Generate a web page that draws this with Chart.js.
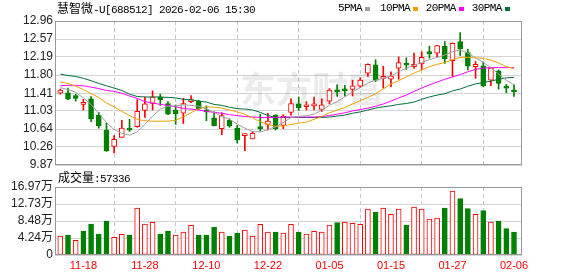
<!DOCTYPE html>
<html><head><meta charset="utf-8">
<script src="https://cdn.jsdelivr.net/npm/chart.js@4.4.1/dist/chart.umd.min.js"></script>
<style>
html,body{margin:0;padding:0;background:#fff;}
#wrap{position:relative;width:578px;height:276px;overflow:hidden;background:#fff;}
canvas{position:absolute;left:0;top:0;}
.t{position:absolute;white-space:nowrap;color:#000;line-height:14px;}
.cjk{font-family:'Noto Sans CJK SC',sans-serif;font-size:12px;}
.asc{font-family:'Liberation Mono',monospace;font-size:11px;letter-spacing:-0.6px;}
.sq{position:absolute;width:5px;height:4px;}
</style></head><body>
<div id="wrap">
<canvas id="main" width="578" height="276"></canvas>
<canvas id="vol" width="578" height="276"></canvas>
<div class="t" style="left:57px;top:1px;"><span class="cjk">慧智微</span><span class="asc">-U[688512] 2026-02-06 15:30</span></div>
<div id="legend"></div>
<div class="t" style="left:58px;top:170px;"><span class="cjk">成交量</span><span class="asc">:57336</span></div>
</div>
<script>
const dates = ['11-13','11-14','11-17','11-18','11-19','11-20','11-21','11-24','11-25','11-26',
'11-27','11-28','12-01','12-02','12-03','12-04','12-05','12-08','12-09','12-10',
'12-11','12-12','12-15','12-16','12-17','12-18','12-19','12-22','12-23','12-24',
'12-25','12-26','12-29','12-30','12-31','01-05','01-06','01-07','01-08','01-09',
'01-12','01-13','01-14','01-15','01-16','01-19','01-20','01-21','01-22','01-23',
'01-26','01-27','01-28','01-29','01-30','02-02','02-03','02-04','02-05','02-06'];

const opens = [11.41,11.42,11.36,11.17,11.29,10.94,10.62,10.27,10.46,10.65,
10.69,11.04,11.19,11.33,11.19,11.05,10.98,11.23,11.24,11.05,
10.88,10.65,10.83,10.66,10.50,10.43,10.66,10.74,10.94,10.72,
11.00,11.18,11.12,11.14,11.06,11.24,11.48,11.48,11.49,11.56,
11.84,12.02,11.73,11.71,11.95,12.05,11.98,12.04,12.30,12.27,
12.42,12.11,12.52,12.28,11.98,12.00,11.69,11.89,11.54,11.46];
const highs = [11.50,11.52,11.39,11.28,11.34,11.00,10.77,10.50,10.83,10.85,
11.27,11.33,11.46,11.39,11.23,11.16,11.30,11.36,11.26,11.14,
11.01,10.99,10.86,10.72,10.54,10.58,10.96,10.98,10.95,10.95,
11.29,11.33,11.23,11.33,11.29,11.51,11.59,11.58,11.69,11.74,
12.04,12.13,11.99,11.87,12.19,12.17,12.27,12.30,12.42,12.43,
12.52,12.49,12.71,12.35,12.09,12.08,11.96,11.91,11.60,11.59];
const lows = [11.39,11.27,11.24,11.05,10.80,10.66,10.16,10.13,10.46,10.59,
10.68,10.89,11.05,11.15,10.95,10.74,10.76,11.21,11.06,10.82,
10.71,10.52,10.68,10.34,10.18,10.43,10.60,10.62,10.62,10.65,
10.94,11.04,11.05,11.05,11.02,11.18,11.34,11.35,11.35,11.53,
11.77,11.66,11.52,11.55,11.71,11.92,11.94,11.91,12.16,12.19,
12.05,11.77,12.22,11.91,11.73,11.55,11.57,11.50,11.42,11.34];
const closes = [11.48,11.28,11.30,11.18,10.86,10.71,10.17,10.42,10.66,10.62,
11.02,11.18,11.33,11.27,10.96,10.97,11.19,11.24,11.08,11.01,
10.71,10.93,10.71,10.41,10.51,10.55,10.65,10.81,10.65,10.92,
11.19,11.10,11.14,11.15,11.16,11.48,11.44,11.46,11.57,11.69,
12.03,11.69,11.74,11.78,12.07,12.01,12.03,12.18,12.26,12.43,
12.15,12.48,12.36,11.99,12.03,11.57,11.95,11.62,11.52,11.44];
const volumes = [47400,49900,36600,59900,77400,52400,84900,44100,51600,49900,
117300,77400,81500,52400,59900,49900,57400,74100,49900,49900,
69900,57400,47400,54900,62400,47400,76600,57400,57400,54900,
76500,57400,52400,59100,57400,74900,80700,82400,79000,76500,
114800,107300,117300,101500,114800,74900,119800,114800,89900,92400,
117300,159700,140600,115700,101500,110700,82400,84900,65700,57336];

const ma5 = [11.53,11.49,11.43,11.31,11.17,10.98,10.78,10.63,10.55,10.51,
10.58,10.74,10.92,11.07,11.13,11.14,11.16,11.15,11.13,11.07,
11.00,10.91,10.85,10.75,10.66,10.59,10.58,10.63,10.69,10.78,
10.89,10.91,10.93,10.96,11.05,11.15,11.23,11.33,11.44,11.53,
11.63,11.69,11.73,11.78,11.87,11.95,12.01,12.07,12.13,12.18,
12.23,12.30,12.34,12.27,12.17,12.07,11.96,11.82,11.69,11.59];
const ma10 = [11.65,11.62,11.56,11.49,11.40,11.32,11.20,11.12,11.02,10.93,
10.85,10.82,10.81,10.81,10.81,10.83,10.90,10.99,11.08,11.12,
11.11,11.09,11.05,11.01,10.96,10.88,10.80,10.74,10.70,10.71,
10.74,10.77,10.79,10.85,10.91,10.99,11.05,11.10,11.18,11.25,
11.32,11.40,11.50,11.61,11.68,11.76,11.84,11.91,11.98,12.03,
12.07,12.13,12.18,12.18,12.17,12.16,12.12,12.06,11.98,11.94];
const ma20 = [11.57,11.58,11.58,11.57,11.54,11.51,11.47,11.45,11.41,11.35,
11.30,11.23,11.20,11.17,11.15,11.12,11.08,11.07,11.05,11.02,
11.00,10.98,10.95,10.93,10.91,10.90,10.89,10.89,10.89,10.90,
10.90,10.90,10.90,10.90,10.91,10.93,10.96,10.99,11.03,11.06,
11.09,11.13,11.18,11.24,11.31,11.37,11.45,11.52,11.59,11.65,
11.71,11.76,11.81,11.87,11.92,11.95,11.96,11.96,11.96,11.96];
const ma30 = [11.82,11.79,11.77,11.73,11.68,11.62,11.57,11.52,11.47,11.39,
11.34,11.33,11.33,11.33,11.32,11.31,11.28,11.27,11.24,11.22,
11.17,11.15,11.11,11.08,11.07,11.05,11.00,10.93,10.89,10.89,
10.89,10.89,10.89,10.89,10.89,10.90,10.92,10.94,10.98,11.01,
11.05,11.09,11.12,11.14,11.17,11.19,11.22,11.28,11.33,11.37,
11.40,11.46,11.50,11.56,11.61,11.64,11.67,11.71,11.74,11.75];

const priceTickLabels = ['9.87','10.26','10.64','11.03','11.41','11.80','12.19','12.57','12.96'];
const volTickValues = [0,42425,84850,127275,169700];
const volTickLabels = ['0','4.24万','8.48万','12.73万','16.97万'];
const xTickLabels = ['11-18','11-28','12-10','12-22','01-05','01-15','01-27','02-06'];
const maNames = ['5PMA','10PMA','20PMA','30PMA'];

const RED = '#ff0000', GREEN = '#008000';
const maColors = ['#a0a0a0','#f0a000','#ff00ff','#006f3a'];
const FONT = "'Liberation Sans', Arial, 'Noto Sans CJK SC', sans-serif";

// legend (HTML text)
(function(){
  const lg = document.getElementById('legend');
  const textX = [338,380,425.7,471.7], sqX = [365,413,459,505];
  maNames.forEach((n,i)=>{
    const d = document.createElement('div'); d.className='t asc'; d.style.left=textX[i]+'px'; d.style.top='1px'; d.textContent=n; lg.appendChild(d);
    const s = document.createElement('div'); s.className='sq'; s.style.left=sqX[i]+'px'; s.style.top='7px'; s.style.background=maColors[i]; lg.appendChild(s);
  });
})();

const tickIdx = xTickLabels.map(l => dates.indexOf(l));
const candleUp = closes.map((c,i) => c >= opens[i]);
const volUp = closes.map((c,i) => i === 0 ? candleUp[0] : c >= closes[i-1]);
const XMIN = -0.69, XMAX = 60.04;

const framePlugin = {
  id: 'frame',
  afterDraw(c) {
    const {ctx, chartArea: a} = c;
    ctx.save();
    ctx.strokeStyle = '#999999'; ctx.lineWidth = 1;
    ctx.strokeRect(Math.round(a.left)+0.5, Math.round(a.top)+0.5, Math.round(a.right-a.left)-1, Math.round(a.bottom-a.top)-1);
    ctx.restore();
  }
};
const watermarkPlugin = {
  id: 'wm',
  beforeDatasetsDraw(c) {
    const ctx = c.ctx;
    ctx.save();
    ctx.fillStyle = 'rgba(0,0,0,0.08)';
    ctx.font = "bold 36px 'Noto Sans CJK SC'";
    ctx.textBaseline = 'alphabetic';
    ctx.fillText('东方财富', 240, 103);
    ctx.restore();
  }
};

function xScale(showLabels) {
  return {
    type: 'linear', min: XMIN, max: XMAX, offset: false,
    afterBuildTicks: s => { s.ticks = tickIdx.map(v => ({value: v})); },
    afterFit: s => { s.height = showLabels ? 21 : 0; },
    ticks: {
      display: showLabels, autoSkip: false, maxRotation: 0, padding: 4,
      color: RED, font: {family: FONT, size: 11},
      callback: (v) => dates[v]
    },
    grid: {color: '#c8c8c8', lineWidth: 1, drawTicks: false},
    border: {display: false, dash: [4,3]}
  };
}

const lineDs = (data, color) => ({
  type: 'line', data: data.map((v,i)=>({x:i, y:v})), borderColor: color, borderWidth: 1,
  pointRadius: 0, tension: 0, fill: false
});

new Chart(document.getElementById('main'), {
  type: 'bar',
  data: {
    datasets: [
      lineDs(ma5, maColors[0]), lineDs(ma10, maColors[1]), lineDs(ma20, maColors[2]), lineDs(ma30, maColors[3]),
      {
        data: opens.map((o,i)=>({x:i, y:[o, closes[i]]})), grouped: false, barThickness: 5, minBarLength: 2,
        backgroundColor: candleUp.map(u => u ? '#ffffff' : GREEN),
        borderColor: candleUp.map(u => u ? RED : GREEN), borderWidth: 1, borderSkipped: false
      },
      {
        data: lows.map((l,i)=>({x:i, y:[l, highs[i]]})), grouped: false, barThickness: 1,
        backgroundColor: candleUp.map(u => u ? RED : GREEN), borderWidth: 0
      }
    ]
  },
  options: {
    responsive: false, animation: false, events: [],
    layout: {padding: {left: 0, right: 56, top: 21, bottom: 111}},
    plugins: {legend: {display: false}, tooltip: {enabled: false}},
    scales: {
      x: xScale(false),
      y: {
        min: 9.87, max: 12.96,
        afterBuildTicks: s => { s.ticks = priceTickLabels.map(v => ({value: parseFloat(v)})); },
        afterFit: s => { s.width = 55; },
        ticks: {autoSkip: false, padding: 2, color: '#222', font: {family: FONT, size: 12}, callback: (v, i) => priceTickLabels[i]},
        grid: {color: '#d4d4d4', lineWidth: 1, drawTicks: false},
        border: {display: false}
      }
    }
  },
  plugins: [watermarkPlugin, framePlugin]
});

new Chart(document.getElementById('vol'), {
  type: 'bar',
  data: {
    datasets: [{
      data: volumes.map((v,i)=>({x:i, y:v})), barThickness: 5,
      backgroundColor: volUp.map(u => u ? '#ffffff' : GREEN),
      borderColor: volUp.map(u => u ? RED : GREEN), borderWidth: 1, borderSkipped: false
    }]
  },
  options: {
    responsive: false, animation: false, events: [],
    layout: {padding: {left: 0, right: 56, top: 187, bottom: 0}},
    plugins: {legend: {display: false}, tooltip: {enabled: false}},
    scales: {
      x: xScale(true),
      y: {
        min: 0, max: volTickValues[volTickValues.length-1],
        afterBuildTicks: s => { s.ticks = volTickValues.map(v => ({value: v})); },
        afterFit: s => { s.width = 55; },
        ticks: {autoSkip: false, padding: 2, color: '#222', font: {family: FONT, size: 12}, callback: (v, i) => volTickLabels[i]},
        grid: {color: '#d4d4d4', lineWidth: 1, drawTicks: false},
        border: {display: false}
      }
    }
  },
  plugins: [framePlugin]
});
</script>
</body></html>
